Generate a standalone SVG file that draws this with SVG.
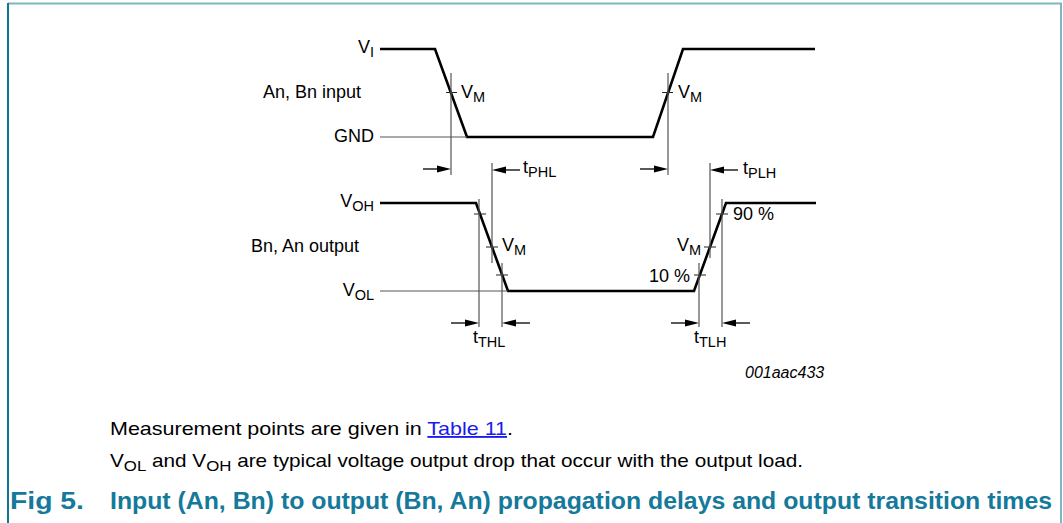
<svg xmlns="http://www.w3.org/2000/svg" xmlns:xlink="http://www.w3.org/1999/xlink" width="1063" height="523" viewBox="0 0 1063 523">
<style>
text{font-family:"Liberation Sans",Arial,sans-serif;fill:#000}
.lbl{font-size:18px}
.sub{font-size:14.5px}
.wave{fill:none;stroke:#000;stroke-width:2.6;stroke-linejoin:miter}
.thin{fill:none;stroke:#555;stroke-width:1.2}
.tick{fill:none;stroke:#222;stroke-width:1.2}
.body{font-size:18.5px}
.bsub{font-size:15px}
.cap{font-size:23px;font-weight:bold;fill:#14799a}
</style>
<defs>
<g id="arrR"><path d="M-28,0 H-10" stroke="#000" stroke-width="1.3"/><path d="M-14,-3.5 L0,0 L-14,3.5 Z" fill="#000"/></g>
<g id="arrL"><path d="M28,0 H10" stroke="#000" stroke-width="1.3"/><path d="M14,-3.5 L0,0 L14,3.5 Z" fill="#000"/></g>
</defs>
<rect width="1063" height="523" fill="#fff"/>
<g id="frame">
<path d="M8,3.5 H1061 V523" fill="none" stroke="#7db6c6" stroke-width="2"/>
<path d="M8,3 V523" fill="none" stroke="#0c7895" stroke-width="2"/>
</g>
<g id="input-wave">
<path class="wave" d="M380,49 H435 L467,137 H653 L683,49 H815"/>
<path class="thin" d="M380,137 H467"/>
<path class="tick" d="M446,92.5 H457 M662,92.5 H673"/>
<text class="lbl" x="374" y="53" text-anchor="end">V<tspan class="sub" dy="4">I</tspan></text>
<text class="lbl" x="361" y="98" text-anchor="end">An, Bn input</text>
<text class="lbl" x="374" y="142" text-anchor="end">GND</text>
<text class="lbl" x="461" y="98">V<tspan class="sub" dy="4">M</tspan></text>
<text class="lbl" x="678" y="98">V<tspan class="sub" dy="4">M</tspan></text>
</g>
<g id="output-wave">
<path class="wave" d="M380,203 H476 L508,291 H694 L726,203 H816"/>
<path class="thin" d="M380,291 H508"/>
<path class="tick" d="M474,214 H486 M486,247 H498 M496,275 H508 M716,214 H728 M704,247 H716 M694,275 H706"/>
<text class="lbl" x="374" y="207" text-anchor="end">V<tspan class="sub" dy="4">OH</tspan></text>
<text class="lbl" x="359" y="252" text-anchor="end">Bn, An output</text>
<text class="lbl" x="374" y="296" text-anchor="end">V<tspan class="sub" dy="4">OL</tspan></text>
<text class="lbl" x="502" y="251">V<tspan class="sub" dy="4">M</tspan></text>
<text class="lbl" x="701" y="251" text-anchor="end">V<tspan class="sub" dy="4">M</tspan></text>
<text class="lbl" x="733" y="220">90 %</text>
<text class="lbl" x="690" y="282" text-anchor="end">10 %</text>
</g>
<g id="connectors">
<path class="thin" d="M451,73 V175 M492,163 V263 M668,73 V175 M710,163 V258 M479,199 V327 M502,263 V327 M699,263 V327 M722,199 V327"/>
<use xlink:href="#arrR" x="451" y="169"/>
<use xlink:href="#arrL" x="492" y="170"/>
<use xlink:href="#arrR" x="668" y="169"/>
<use xlink:href="#arrL" x="710" y="170"/>
<use xlink:href="#arrR" x="479" y="323"/>
<use xlink:href="#arrL" x="502" y="323"/>
<use xlink:href="#arrR" x="699" y="323"/>
<use xlink:href="#arrL" x="722" y="323"/>
<text class="lbl" x="523" y="173">t<tspan class="sub" dy="4">PHL</tspan></text>
<text class="lbl" x="743" y="174">t<tspan class="sub" dy="4">PLH</tspan></text>
<text class="lbl" x="473" y="343">t<tspan class="sub" dy="4">THL</tspan></text>
<text class="lbl" x="694" y="343">t<tspan class="sub" dy="4">TLH</tspan></text>
</g>
<text x="745" y="378" style="font-size:16px;font-style:italic">001aac433</text>
<g id="notes">
<text class="body" x="110" y="435" textLength="403" lengthAdjust="spacingAndGlyphs">Measurement points are given in <tspan text-decoration="underline" style="fill:#1a1aee">Table 11</tspan>.</text>
<text class="body" x="110" y="467" textLength="693" lengthAdjust="spacingAndGlyphs">V<tspan class="bsub" dy="4">OL</tspan><tspan dy="-4"> and V</tspan><tspan class="bsub" dy="4">OH</tspan><tspan dy="-4"> are typical voltage output drop that occur with the output load.</tspan></text>
<text class="cap" x="10" y="509" textLength="74" lengthAdjust="spacingAndGlyphs">Fig 5.</text>
<text class="cap" x="110" y="509" textLength="942" lengthAdjust="spacingAndGlyphs">Input (An, Bn) to output (Bn, An) propagation delays and output transition times</text>
</g>
</svg>
